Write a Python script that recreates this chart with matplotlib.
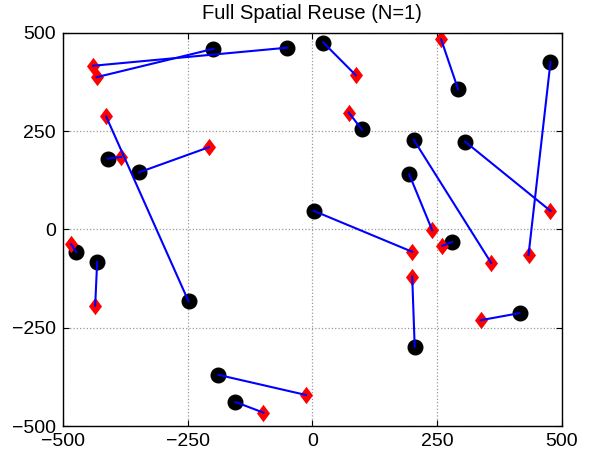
import matplotlib
matplotlib.use("Agg")
import matplotlib.pyplot as plt
from matplotlib.path import Path

plt.rcParams["font.family"] = ["Liberation Sans", "DejaVu Sans"]

# transmitter (circle) positions
tx_x = [-198, -50, -248, -410, -347, 22, 292, 99, 477, 203,
        306, 194, 3, 280, 205, 415, -188, -154, -473, -431]
tx_y = [459, 462, -183, 180, 145, 475, 356, 254, 425, 228,
        223, 140, 47, -32, -298, -213, -370, -439, -58, -83]

# receiver (diamond) positions
rx_x = [-432, -439, -413, -383, -207, 87, 258, 73, 433, 358,
        477, 240, 200, 260, 200, 337, -13, -98, -483, -435]
rx_y = [387, 416, 287, 184, 209, 392, 483, 297, -65, -85,
        47, -2, -57, -42, -120, -231, -421, -466, -38, -194]

ticks = [-500, -250, 0, 250, 500]

diamond = Path([(0, 1), (0.75, 0), (0, -1), (-0.75, 0), (0, 1)],
               [Path.MOVETO, Path.LINETO, Path.LINETO, Path.LINETO, Path.CLOSEPOLY])

fig = plt.figure(figsize=(5.9, 4.57), dpi=100)
ax = fig.add_axes([0.1063, 0.0678, 0.8462, 0.8606])

ax.plot(tx_x, tx_y, "o", color="black", markersize=10.5, zorder=2)
ax.plot(rx_x, rx_y, linestyle="none", marker=diamond, color="red",
        markeredgewidth=0, markersize=12.5, zorder=2)

for x0, y0, x1, y1 in zip(tx_x, tx_y, rx_x, rx_y):
    ax.plot([x0, x1], [y0, y1], color="blue", linewidth=1.5, zorder=3)

ax.set_xlim(-500, 500)
ax.set_ylim(-500, 500)
ax.set_xticks(ticks)
ax.set_yticks(ticks)
ax.grid(True, linestyle=":", color="0.6", linewidth=0.9)
ax.tick_params(direction="in", top=True, right=True, length=4.5,
               labelsize=14, pad=5)
for s in ax.spines.values():
    s.set_linewidth(1.0)

ax.set_title("Full Spatial Reuse (N=1)", fontsize=14.5, pad=10)

plt.savefig("out.png", dpi=100)
